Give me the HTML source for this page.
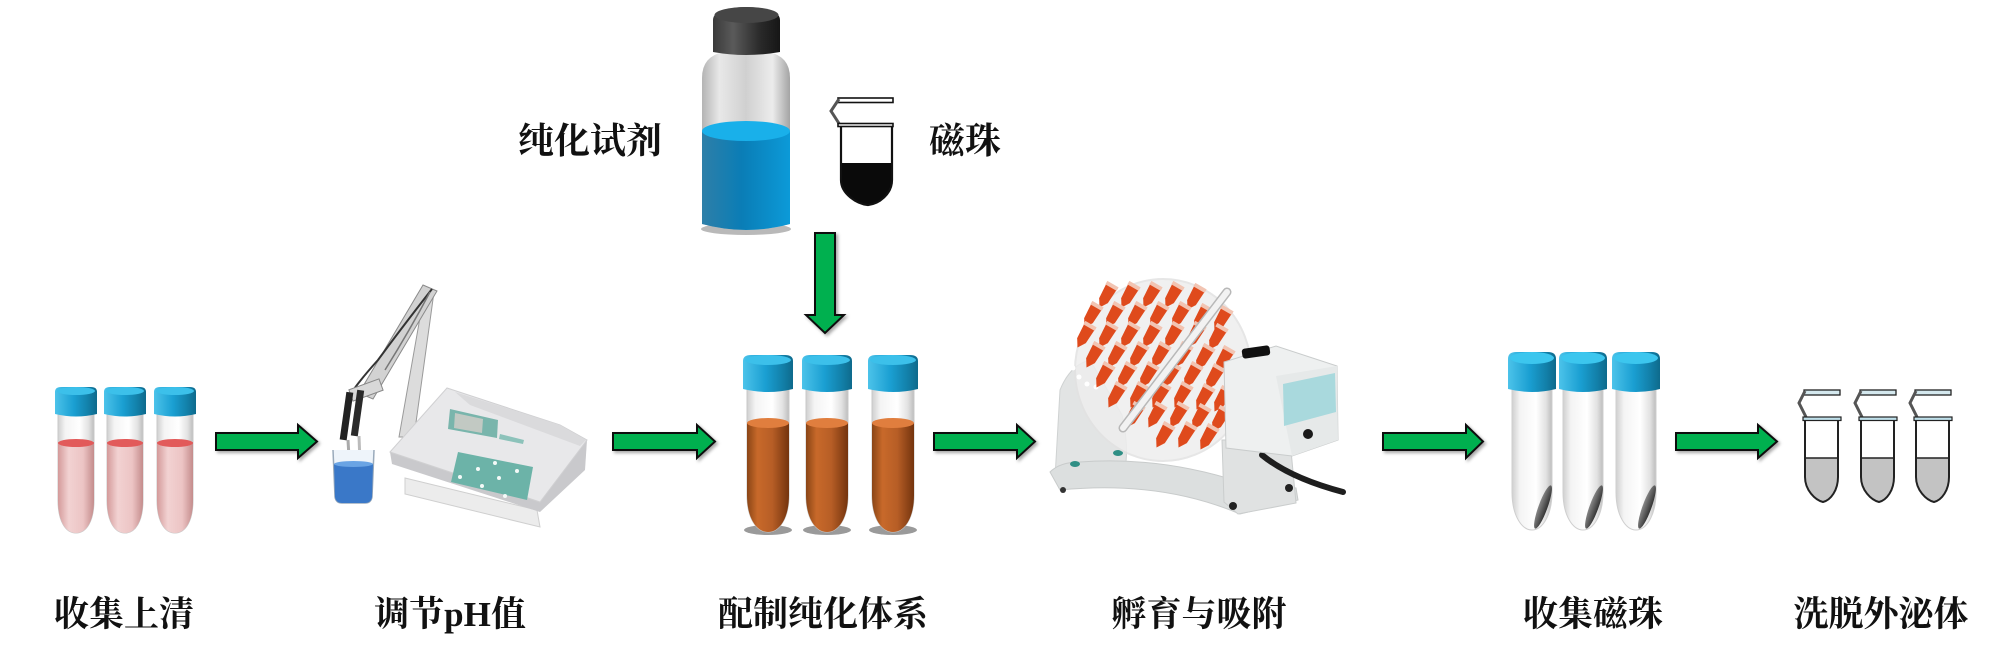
<!DOCTYPE html>
<html><head><meta charset="utf-8">
<style>
html,body{margin:0;padding:0;background:#fff;}
svg{display:block;}
text{font-family:"Liberation Serif","Noto Serif CJK SC",serif;font-weight:700;fill:#111;}
</style></head><body>
<svg width="2008" height="656" viewBox="0 0 2008 656" xmlns="http://www.w3.org/2000/svg">
<defs>
<linearGradient id="cap" x1="0" x2="1" y1="0" y2="0">
 <stop offset="0" stop-color="#4cc3ea"/><stop offset="0.45" stop-color="#1a9fd2"/><stop offset="0.8" stop-color="#127fa8"/><stop offset="1" stop-color="#0e6a8c"/>
</linearGradient>
<linearGradient id="glass" x1="0" x2="1" y1="0" y2="0">
 <stop offset="0" stop-color="#cfcfcf"/><stop offset="0.2" stop-color="#f4f4f4"/><stop offset="0.6" stop-color="#ffffff"/><stop offset="0.85" stop-color="#e2e2e2"/><stop offset="1" stop-color="#bdbdbd"/>
</linearGradient>
<linearGradient id="pink" x1="0" x2="1" y1="0" y2="0">
 <stop offset="0" stop-color="#d49a9a"/><stop offset="0.3" stop-color="#f2d2d2"/><stop offset="0.7" stop-color="#ecc4c4"/><stop offset="1" stop-color="#c48c8c"/>
</linearGradient>
<linearGradient id="brown" x1="0" x2="1" y1="0" y2="0">
 <stop offset="0" stop-color="#8a4516"/><stop offset="0.25" stop-color="#c8692a"/><stop offset="0.6" stop-color="#b75e26"/><stop offset="1" stop-color="#74340e"/>
</linearGradient>
<linearGradient id="bglass" x1="0" x2="1" y1="0" y2="0">
 <stop offset="0" stop-color="#b4b4b4"/><stop offset="0.2" stop-color="#e8e8e8"/><stop offset="0.5" stop-color="#d0d0d0"/><stop offset="0.8" stop-color="#ececec"/><stop offset="1" stop-color="#a4a4a4"/>
</linearGradient>
<linearGradient id="bliq" x1="0" x2="1" y1="0" y2="0">
 <stop offset="0" stop-color="#2e7fa8"/><stop offset="0.45" stop-color="#0a7db6"/><stop offset="1" stop-color="#0c9ad8"/>
</linearGradient>
<linearGradient id="dcap" x1="0" x2="1" y1="0" y2="0">
 <stop offset="0" stop-color="#3a3a3a"/><stop offset="0.3" stop-color="#5a5a5a"/><stop offset="0.7" stop-color="#2a2a2a"/><stop offset="1" stop-color="#161616"/>
</linearGradient>
<linearGradient id="cres" x1="0" x2="1" y1="0" y2="0">
 <stop offset="0" stop-color="#888"/><stop offset="1" stop-color="#333"/>
</linearGradient>
<filter id="sh" x="-10%" y="-20%" width="130%" height="160%">
 <feDropShadow dx="2" dy="2" stdDeviation="1.5" flood-color="#000" flood-opacity="0.35"/>
</filter>

<g id="tA">
 <path d="M3,26 V113 C3,135 11,146 21,146 C31,146 39,135 39,113 V26 Z" fill="url(#glass)" stroke="#c8c8c8" stroke-width="1"/>
 <path d="M3,55 V113 C3,135 11,146 21,146 C31,146 39,135 39,113 V55 Z" fill="url(#pink)"/>
 <ellipse cx="21" cy="56" rx="18" ry="4" fill="#e25a5a"/>
 <path d="M0,5 Q0,0 6,0 L36,0 Q42,0 42,5 L42,27 Q21,32 0,27 Z" fill="url(#cap)"/>
 <ellipse cx="21" cy="4" rx="19" ry="4" fill="#3cc0ea"/>
</g>
<g id="tB">
 <ellipse cx="25" cy="175" rx="24" ry="5" fill="#9a9a9a"/>
 <path d="M4,33 V140 C4,164 14,177 25,177 C36,177 46,164 46,140 V33 Z" fill="url(#glass)" stroke="#c8c8c8" stroke-width="1"/>
 <path d="M4,68 V140 C4,164 14,177 25,177 C36,177 46,164 46,140 V68 Z" fill="url(#brown)"/>
 <ellipse cx="25" cy="68" rx="21" ry="5" fill="#e07e3e"/>
 <path d="M0,6 Q0,0 8,0 L42,0 Q50,0 50,6 L50,34 Q25,40 0,34 Z" fill="url(#cap)"/>
 <ellipse cx="25" cy="5" rx="23" ry="5" fill="#3cc0ea"/>
</g>
<g id="tC">
 <path d="M4,36 V140 C4,164 14,178 24,178 C34,178 44,164 44,140 V36 Z" fill="url(#glass)" stroke="#cfcfcf" stroke-width="1"/>
 <ellipse cx="0" cy="0" rx="4.5" ry="23" fill="url(#cres)" transform="translate(35,155) rotate(20)"/>
 <path d="M0,7 Q0,0 8,0 L40,0 Q48,0 48,7 L48,37 Q24,43 0,37 Z" fill="url(#cap)"/>
 <ellipse cx="24" cy="6" rx="22" ry="6" fill="#3cc6ee"/>
</g>
<g id="ep">
 <path d="M7,30 V87 C7,100 17,110 25,112 C33,110 40,100 40,87 V30 Z" fill="#fff"/>
 <path d="M7,68 V87 C7,100 17,110 25,112 C33,110 40,100 40,87 V68 Z" fill="#c3c3c3"/>
 <path d="M7,30 V87 C7,100 17,110 25,112 C33,110 40,100 40,87 V30" fill="none" stroke="#222" stroke-width="2"/>
 <line x1="7" y1="68" x2="40" y2="68" stroke="#222" stroke-width="1.5"/>
 <rect x="6" y="0" width="36" height="5" fill="#d4e8ee" stroke="#222" stroke-width="1.3"/>
 <polyline points="7,1 1,13 8,27" fill="none" stroke="#555" stroke-width="3"/>
 <rect x="5" y="27" width="38" height="3.5" fill="#bfe0ea" stroke="#222" stroke-width="1.2"/>
</g>
<g id="rt">
 <path d="M-6,-13 L6,-13 L5,3 L0,11 L-5,3 Z" fill="#df4a1c"/>
 <rect x="-6.5" y="-16" width="13" height="4" fill="#f2c4b2"/>
</g>
</defs>

<rect width="2008" height="656" fill="#fff"/>

<use href="#tA" transform="translate(55,387)"/>
<use href="#tA" transform="translate(104,387)"/>
<use href="#tA" transform="translate(154,387)"/>

<g fill="#00b050" stroke="#111" stroke-width="2" stroke-linejoin="miter" filter="url(#sh)">
 <polygon points="216,433 298,433 298,425 317,441.5 298,458 298,450 216,450"/>
 <polygon points="613,433 697,433 697,425 715,441.5 697,458 697,450 613,450"/>
 <polygon points="934,433 1017,433 1017,425 1035,441.5 1017,458 1017,450 934,450"/>
 <polygon points="1383,433 1466,433 1466,425 1483,441.5 1466,458 1466,450 1383,450"/>
 <polygon points="1676,433 1758,433 1758,425 1777,441.5 1758,458 1758,450 1676,450"/>
 <polygon points="815,233 835,233 835,315 844,315 825,333 806,315 815,315"/>
</g>

<!-- pH meter -->
<g>
 <polygon points="399,437 414,437 434,292 425,289" fill="#dcdcdc" stroke="#9a9a9a" stroke-width="1"/>
 <polygon points="423,285 437,291 373,399 359,393" fill="#d2d2d2" stroke="#8a8a8a" stroke-width="1"/>
 <path d="M432,289 Q400,330 378,360 Q360,380 352,392" fill="none" stroke="#333" stroke-width="2"/>
 <path d="M430,292 Q410,330 385,370" fill="none" stroke="#777" stroke-width="1.5"/>
 <rect x="350" y="384" width="32" height="12" fill="#d8d8d8" stroke="#888" stroke-width="1" transform="rotate(-20 366 390)"/>
 <rect x="343" y="392" width="7" height="48" fill="#222" transform="rotate(8 346 416)"/>
 <rect x="354" y="390" width="7" height="46" fill="#2a2a2a" transform="rotate(8 357 413)"/>
 <line x1="348" y1="440" x2="351" y2="492" stroke="#aaa" stroke-width="3"/>
 <line x1="359" y1="436" x2="361" y2="490" stroke="#bbb" stroke-width="3"/>
 <path d="M333,450 L335,497 Q336,503 342,503 L365,503 Q371,503 372,497 L374,450" fill="#eef4fa" stroke="#9aaabb" stroke-width="1.5"/>
 <path d="M334,464 L335,497 Q336,503 342,503 L365,503 Q371,503 372,497 L373,464 Z" fill="#3a78c8"/>
 <ellipse cx="353.5" cy="464" rx="19.5" ry="3" fill="#6aa4e4"/>
 <polygon points="405,478 537,510 540,527 405,494" fill="#ececec" stroke="#cfcfcf" stroke-width="1"/>
 <polygon points="390,452 447,388 560,425 587,440 585,470 540,512 392,464" fill="#c9c9cc"/>
 <polygon points="390,452 447,388 560,425 587,440 540,502" fill="#e8e8ea" stroke="#d0d0d2" stroke-width="1"/>
 <polygon points="455,392 560,425 586,440 580,446 470,405" fill="#dadadc"/>
 <polygon points="450,409 498,420 497,438 448,429" fill="#79b5ac"/>
 <polygon points="455,413 483,419 482,433 454,428" fill="#c2c9c3"/>
 <polygon points="500,434 524,440 523,444 499,439" fill="#8cc2ba"/>
 <polygon points="458,452 533,467 527,500 451,482" fill="#6cb3a8"/>
 <g fill="#f4faf8">
  <circle cx="495" cy="463" r="2"/><circle cx="478" cy="469" r="2"/><circle cx="517" cy="471" r="2"/>
  <circle cx="460" cy="477" r="2"/><circle cx="499" cy="478" r="2"/><circle cx="482" cy="486" r="2"/><circle cx="505" cy="496" r="2"/>
 </g>
</g>

<!-- Bottle -->
<g>
 <ellipse cx="746" cy="229" rx="45" ry="6" fill="#8a8a8a" opacity="0.6"/>
 <path d="M702,78 Q702,56 724,52 L768,52 Q790,56 790,78 L790,224 Q746,236 702,224 Z" fill="url(#bglass)"/>
 <path d="M702,131 L702,224 Q746,236 790,224 L790,131 Z" fill="url(#bliq)"/>
 <ellipse cx="746" cy="131" rx="44" ry="10" fill="#19b0ea"/>
 <path d="M713,20 Q713,8 746,7 Q780,8 780,20 L780,52 Q746,58 713,52 Z" fill="url(#dcap)"/>
 <ellipse cx="746.5" cy="15" rx="32" ry="8" fill="#464646"/>
</g>

<!-- Magnetic bead tube -->
<g transform="translate(830,98)">
 <path d="M11,27 V82 C11,96 27,106 38,107 C49,106 62,96 62,82 V27 Z" fill="#fff"/>
 <path d="M11,65 V82 C11,96 27,106 38,107 C49,106 62,96 62,82 V65 Z" fill="#0a0a0a"/>
 <path d="M11,27 V82 C11,96 27,106 38,107 C49,106 62,96 62,82 V27" fill="none" stroke="#111" stroke-width="2.2"/>
 <rect x="8" y="0" width="55" height="4.5" fill="#fff" stroke="#111" stroke-width="1.6"/>
 <polyline points="9,1 1,13 10,27" fill="none" stroke="#555" stroke-width="3"/>
 <rect x="8" y="25.5" width="55" height="3" fill="#fff" stroke="#111" stroke-width="1.6"/>
</g>

<use href="#tB" transform="translate(743,355)"/>
<use href="#tB" transform="translate(802,355)"/>
<use href="#tB" transform="translate(868,355)"/>

<!-- Rotator -->
<g>
 <path d="M1055,478 L1060,390 Q1070,365 1090,360 L1122,415 Q1128,440 1126,462 L1100,470 Z" fill="#e2e4e4" stroke="#cfd2d2" stroke-width="1"/>
 <path d="M1050,472 Q1060,462 1080,462 Q1160,456 1240,482 L1296,488 L1298,500 L1240,514 Q1160,480 1060,490 Z" fill="#dcdfdf" stroke="#c8cbcb" stroke-width="1"/>
 <circle cx="1063" cy="490" r="3" fill="#333"/>
 <ellipse cx="1075" cy="464" rx="5" ry="3" fill="#2f8f85"/>
 <ellipse cx="1118" cy="453" rx="5" ry="3" fill="#2f8f85"/>
 <ellipse cx="1163" cy="370" rx="88" ry="91" fill="#eeeeee" stroke="#e2e2e2" stroke-width="2" opacity="0.85"/>
 <g fill="#fff"><circle cx="1073" cy="368" r="2.5"/><circle cx="1079" cy="377" r="2.5"/><circle cx="1087" cy="384" r="2.5"/><circle cx="1096" cy="387" r="2.5"/></g>
 <g>
  <use href="#rt" transform="translate(1105,298) rotate(30)"/><use href="#rt" transform="translate(1127,298) rotate(30)"/><use href="#rt" transform="translate(1149,298) rotate(30)"/><use href="#rt" transform="translate(1171,298) rotate(30)"/><use href="#rt" transform="translate(1193,300) rotate(30)"/>
  <use href="#rt" transform="translate(1090,318) rotate(30)"/><use href="#rt" transform="translate(1112,318) rotate(30)"/><use href="#rt" transform="translate(1134,318) rotate(30)"/><use href="#rt" transform="translate(1156,318) rotate(30)"/><use href="#rt" transform="translate(1178,318) rotate(30)"/><use href="#rt" transform="translate(1200,320) rotate(30)"/><use href="#rt" transform="translate(1220,322) rotate(30)"/>
  <use href="#rt" transform="translate(1083,338) rotate(30)"/><use href="#rt" transform="translate(1105,338) rotate(30)"/><use href="#rt" transform="translate(1127,338) rotate(30)"/><use href="#rt" transform="translate(1149,338) rotate(30)"/><use href="#rt" transform="translate(1171,338) rotate(30)"/><use href="#rt" transform="translate(1193,338) rotate(30)"/><use href="#rt" transform="translate(1215,340) rotate(30)"/>
  <use href="#rt" transform="translate(1092,358) rotate(30)"/><use href="#rt" transform="translate(1114,358) rotate(30)"/><use href="#rt" transform="translate(1136,358) rotate(30)"/><use href="#rt" transform="translate(1158,358) rotate(30)"/><use href="#rt" transform="translate(1180,358) rotate(30)"/><use href="#rt" transform="translate(1202,360) rotate(30)"/><use href="#rt" transform="translate(1222,362) rotate(30)"/>
  <use href="#rt" transform="translate(1102,378) rotate(30)"/><use href="#rt" transform="translate(1124,378) rotate(30)"/><use href="#rt" transform="translate(1146,378) rotate(30)"/><use href="#rt" transform="translate(1168,378) rotate(30)"/><use href="#rt" transform="translate(1190,378) rotate(30)"/><use href="#rt" transform="translate(1212,380) rotate(30)"/>
  <use href="#rt" transform="translate(1114,398) rotate(30)"/><use href="#rt" transform="translate(1136,398) rotate(30)"/><use href="#rt" transform="translate(1158,398) rotate(30)"/><use href="#rt" transform="translate(1180,398) rotate(30)"/><use href="#rt" transform="translate(1202,400) rotate(30)"/><use href="#rt" transform="translate(1220,402) rotate(30)"/>
  <use href="#rt" transform="translate(1132,418) rotate(30)"/><use href="#rt" transform="translate(1154,418) rotate(30)"/><use href="#rt" transform="translate(1176,418) rotate(30)"/><use href="#rt" transform="translate(1198,420) rotate(30)"/><use href="#rt" transform="translate(1218,422) rotate(30)"/>
  <use href="#rt" transform="translate(1162,438) rotate(30)"/><use href="#rt" transform="translate(1184,438) rotate(30)"/><use href="#rt" transform="translate(1206,440) rotate(30)"/>
 </g>
 <line x1="1123" y1="428" x2="1227" y2="292" stroke="#b8b8b8" stroke-width="9" stroke-linecap="round"/>
 <line x1="1123" y1="428" x2="1227" y2="292" stroke="#f2f2f2" stroke-width="6" stroke-linecap="round"/>
 <polygon points="1222,440 1290,440 1296,503 1238,514 1224,502" fill="#e0e2e2" stroke="#cacdcd" stroke-width="1"/>
 <circle cx="1233" cy="506" r="4" fill="#222"/>
 <circle cx="1289" cy="488" r="4" fill="#222"/>
 <path d="M1262,455 Q1290,478 1343,492" fill="none" stroke="#1e1e1e" stroke-width="6" stroke-linecap="round"/>
 <polygon points="1224,362 1276,346 1337,366 1338,440 1292,456 1226,448" fill="#eef0f0" stroke="#c9cccc" stroke-width="1"/>
 <polygon points="1276,376 1337,366 1338,440 1292,456" fill="#e6e9e9"/>
 <polygon points="1283,384 1335,373 1336,412 1284,426" fill="#a9d9dd"/>
 <rect x="1242" y="347" width="28" height="10" rx="3" fill="#111" transform="rotate(-8 1256 352)"/>
 <circle cx="1308" cy="434" r="5" fill="#1a1a1a"/>
</g>

<use href="#tC" transform="translate(1508,352)"/>
<use href="#tC" transform="translate(1559,352)"/>
<use href="#tC" transform="translate(1612,352)"/>

<use href="#ep" transform="translate(1798,390)"/>
<use href="#ep" transform="translate(1854,390)"/>
<use href="#ep" transform="translate(1909,390)"/>

<text x="590" y="153" font-size="36" text-anchor="middle">纯化试剂</text>
<text x="965" y="153" font-size="36" text-anchor="middle">磁珠</text>
<text x="124" y="626" font-size="35" text-anchor="middle">收集上清</text>
<text x="450" y="626" font-size="35" text-anchor="middle">调节pH值</text>
<text x="823" y="626" font-size="35" text-anchor="middle">配制纯化体系</text>
<text x="1199" y="626" font-size="35" text-anchor="middle">孵育与吸附</text>
<text x="1593" y="626" font-size="35" text-anchor="middle">收集磁珠</text>
<text x="1881" y="626" font-size="35" text-anchor="middle">洗脱外泌体</text>
</svg>
</body></html>
